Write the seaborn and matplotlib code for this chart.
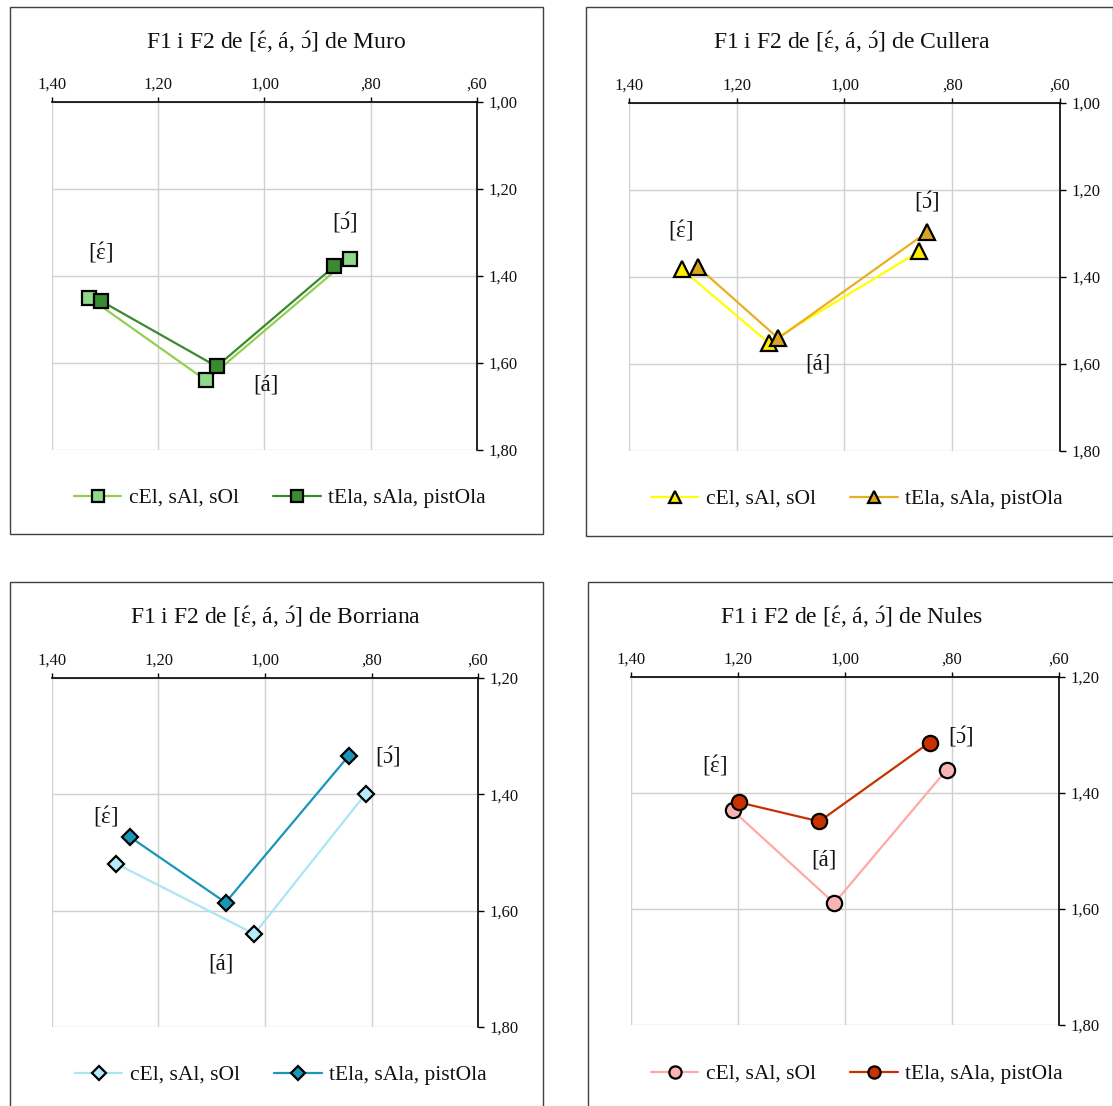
import matplotlib
matplotlib.use("Agg")
import matplotlib.pyplot as plt
import seaborn as sns
from matplotlib.ticker import FuncFormatter, MultipleLocator
from matplotlib.patches import Rectangle

sns.set_theme(style="white")
plt.rcParams['font.family'] = ['Liberation Serif', 'DejaVu Serif']
plt.rcParams['mathtext.fontset'] = 'custom'
plt.rcParams['mathtext.rm'] = 'Liberation Serif'
plt.rcParams['mathtext.it'] = 'Liberation Serif:italic'
plt.rcParams['mathtext.bf'] = 'Liberation Serif:bold'

# Accented vowels (open e, a, open o) set with a centred acute accent
E_ACUTE = "$\\acute{\\mathrm{\u025b}}$"
A_ACUTE = "\u00e1"
O_ACUTE = "$\\acute{\\mathrm{\u0254}}$"

vowels = [f"[{E_ACUTE}]", f"[{A_ACUTE}]", f"[{O_ACUTE}]"]
series_names = ["cEl, sAl, sOl", "tEla, sAla, pistOla"]
towns = ["Muro", "Cullera", "Borriana", "Nules"]

# F2 (x) and F1 (y) values for [ɛ́, á, ɔ́]; first list: cEl, sAl, sOl; second: tEla, sAla, pistOla
muro_x = [[1.330, 1.110, 0.840], [1.307, 1.090, 0.869]]
muro_y = [[1.450, 1.640, 1.360], [1.458, 1.608, 1.378]]

cullera_x = [[1.302, 1.141, 0.861], [1.272, 1.123, 0.847]]
cullera_y = [[1.382, 1.551, 1.341], [1.377, 1.541, 1.297]]

borriana_x = [[1.280, 1.020, 0.811], [1.254, 1.074, 0.843]]
borriana_y = [[1.519, 1.640, 1.399], [1.473, 1.586, 1.334]]

nules_x = [[1.210, 1.020, 0.810], [1.199, 1.048, 0.842]]
nules_y = [[1.430, 1.590, 1.360], [1.416, 1.449, 1.313]]

# Vowel label positions (x, y) per town
muro_lbl_x = [1.309, 0.997, 0.848]
muro_lbl_y = [1.346, 1.650, 1.278]
cullera_lbl_x = [1.305, 1.049, 0.847]
cullera_lbl_y = [1.294, 1.600, 1.227]
borriana_lbl_x = [1.299, 1.082, 0.769]
borriana_lbl_y = [1.438, 1.692, 1.336]
nules_lbl_x = [1.244, 1.039, 0.784]
nules_lbl_y = [1.353, 1.516, 1.303]

W, H = 1113, 1106
fig = plt.figure(figsize=(W / 100, H / 100), dpi=100)


def fx(px):
    return px / W


def fy(py):
    return 1 - py / H


def dec_fmt(v, pos):
    s = f"{v:.2f}".replace(".", ",")
    if s.startswith("0,"):
        s = s[1:]
    return s


panels = [
    dict(town="Muro", xs=muro_x, ys=muro_y, lx=muro_lbl_x, ly=muro_lbl_y,
         ylim=(1.80, 1.00), marker="s", ms=10,
         lines=["#92d050", "#3a8a2f"], faces=["#8fd98a", "#3a8a2f"],
         axes=(52, 102, 477, 450), box=(10, 7, 543, 534),
         title_xy=(276, 41), leg_xy=(280, 498)),
    dict(town="Cullera", xs=cullera_x, ys=cullera_y, lx=cullera_lbl_x, ly=cullera_lbl_y,
         ylim=(1.80, 1.00), marker="^", ms=11,
         lines=["#ffff00", "#e8b020"], faces=["#ffee00", "#d9a521"],
         axes=(629, 103, 1060, 451), box=(586, 7, 1112.5, 536),
         title_xy=(852, 41), leg_xy=(857, 499)),
    dict(town="Borriana", xs=borriana_x, ys=borriana_y, lx=borriana_lbl_x, ly=borriana_lbl_y,
         ylim=(1.80, 1.20), marker="D", ms=8.5,
         lines=["#a8e6f4", "#1996b8"], faces=["#b4ebf8", "#1996b8"],
         axes=(52, 678, 478, 1027), box=(10, 582, 543, 1110),
         title_xy=(276, 616), leg_xy=(281, 1075)),
    dict(town="Nules", xs=nules_x, ys=nules_y, lx=nules_lbl_x, ly=nules_lbl_y,
         ylim=(1.80, 1.20), marker="o", ms=11,
         lines=["#ffa8a8", "#c83200"], faces=["#f8b4b4", "#c83200"],
         axes=(631, 677, 1059, 1025), box=(588, 582, 1112.5, 1110),
         title_xy=(852, 616), leg_xy=(857, 1074)),
]

for p in panels:
    x0, y0, x1, y1 = p["axes"]
    ax = fig.add_axes([fx(x0), fy(y1), (x1 - x0) / W, (y1 - y0) / H])

    for i in range(2):
        sns.lineplot(x=p["xs"][i], y=p["ys"][i], ax=ax, sort=False, estimator=None,
                     color=p["lines"][i], lw=1.6, marker=p["marker"],
                     markersize=p["ms"], markerfacecolor=p["faces"][i],
                     markeredgecolor="black", markeredgewidth=1.6, zorder=3)

    for t, xv, yv in zip(vowels, p["lx"], p["ly"]):
        ax.text(xv, yv, t, ha="center", va="center", fontsize=16.5, color="#111111")

    ax.set_xlim(1.40, 0.60)
    ax.set_ylim(*p["ylim"])
    ax.xaxis.set_major_locator(MultipleLocator(0.2))
    ax.yaxis.set_major_locator(MultipleLocator(0.2))
    ax.xaxis.set_major_formatter(FuncFormatter(dec_fmt))
    ax.yaxis.set_major_formatter(FuncFormatter(dec_fmt))
    ax.xaxis.tick_top()
    ax.yaxis.tick_right()
    ax.tick_params(axis="x", direction="out", length=3.5, width=1, color="black",
                   pad=3, labelsize=12, labelcolor="#111111")
    ax.tick_params(axis="y", direction="out", length=4.5, width=1, color="black",
                   pad=4, labelsize=12, labelcolor="#111111")
    ax.grid(True, color="#d0d0d0", lw=1)
    ax.set_axisbelow(True)
    ax.set_xlabel("")
    ax.set_ylabel("")
    for side in ["left", "bottom"]:
        ax.spines[side].set_visible(False)
    for side in ["top", "right"]:
        ax.spines[side].set_visible(True)
        ax.spines[side].set_color("black")
        ax.spines[side].set_linewidth(1.2)

    bx0, by0, bx1, by1 = p["box"]
    fig.add_artist(Rectangle((fx(bx0), fy(by1)), (bx1 - bx0) / W, (by1 - by0) / H,
                             transform=fig.transFigure, fill=False,
                             edgecolor="#404040", lw=1))

    tx, ty = p["title_xy"]
    fig.text(fx(tx), fy(ty + 1), f"F1 i F2 de [{E_ACUTE}, {A_ACUTE}, {O_ACUTE}] de {p['town']}",
             ha="center", va="center", fontsize=17, color="#111111")

    lgx, lgy = p["leg_xy"]
    fig.legend(ax.lines[:2], series_names, loc="center",
               bbox_to_anchor=(fx(lgx), fy(lgy)), ncol=2, frameon=False,
               fontsize=15.5, handlelength=2.2, handletextpad=0.35,
               columnspacing=1.6, markerscale=0.8, labelcolor="#111111")

fig.savefig("out.png", dpi=100, facecolor="white")
